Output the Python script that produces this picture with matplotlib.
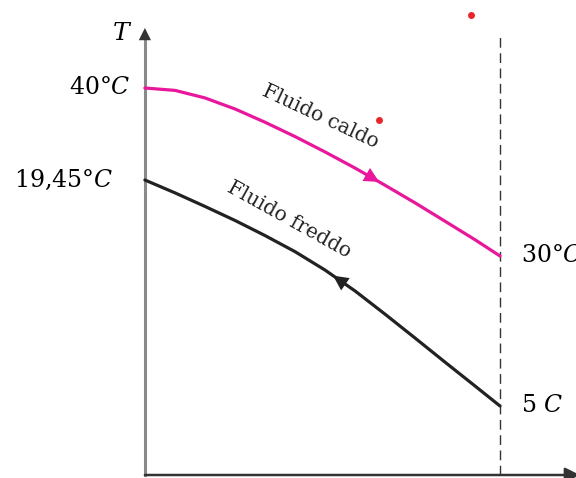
import matplotlib.pyplot as plt
import numpy as np

plt.rcParams['mathtext.fontset'] = 'dejavuserif'
plt.rcParams['font.family'] = 'DejaVu Serif'

# position along the exchanger (0 = inlet side, 1 = outlet side) and schematic temperature height
hot_x = [0.0, 0.085, 0.169, 0.254, 0.338, 0.423, 0.507, 0.592, 0.676, 0.761, 0.845, 0.930, 1.0]
hot_y = [3.87, 3.846, 3.771, 3.66, 3.528, 3.384, 3.231, 3.069, 2.898, 2.721, 2.538, 2.352, 2.19]
cold_x = [0.0, 0.085, 0.169, 0.254, 0.338, 0.423, 0.507, 0.592, 0.676, 0.761, 0.845, 0.930, 1.0]
cold_y = [2.95, 2.821, 2.686, 2.545, 2.395, 2.233, 2.05, 1.84, 1.609, 1.369, 1.129, 0.889, 0.69]

hot_labels = ['40°$C$', '30°$C$']
cold_labels = ['19,45°$C$', '5 $C$']
hot_color = '#e8179b'
cold_color = '#222222'

fig = plt.figure(figsize=(5.76, 4.78), dpi=100)
ax = fig.add_axes([0, 0, 1, 1])
ax.set_xlim(-0.408, 1.214)
ax.set_ylim(-0.03, 4.75)
ax.axis('off')

# axes drawn as arrows
ax.plot([0, 0], [0, 4.35], color='#8a8a8a', lw=2.2)
ax.annotate('', xy=(0, 4.47), xytext=(0, 4.3), annotation_clip=False,
            arrowprops=dict(arrowstyle='-|>', color='#333333', lw=0,
                            mutation_scale=22, shrinkA=0, shrinkB=0))
ax.annotate('', xy=(1.225, 0), xytext=(0, 0), annotation_clip=False,
            arrowprops=dict(arrowstyle='-|>', color='#333333', lw=1.8,
                            mutation_scale=22, shrinkA=0, shrinkB=0))
ax.text(-0.065, 4.41, '$T$', fontsize=18, ha='center', va='center')

# outlet line
ax.plot([1, 1], [0, 4.42], color='#333333', lw=1, ls=(0, (7, 4)))

# curves
ax.plot(hot_x, hot_y, color=hot_color, lw=2.3, solid_capstyle='round',
        solid_joinstyle='round')
ax.plot(cold_x, cold_y, color=cold_color, lw=2.3, solid_capstyle='round',
        solid_joinstyle='round')


def flow_arrow(xs, ys, xpos, reverse, color):
    y0 = np.interp(xpos, xs, ys)
    y1 = np.interp(xpos + 0.02, xs, ys)
    tail, tip = ((xpos + 0.02, y1), (xpos, y0)) if reverse else ((xpos, y0), (xpos + 0.02, y1))
    ax.annotate('', xy=tip, xytext=tail,
                arrowprops=dict(arrowstyle='-|>', color=color, lw=0,
                                mutation_scale=27, shrinkA=0, shrinkB=0))


flow_arrow(hot_x, hot_y, 0.64, False, hot_color)
flow_arrow(cold_x, cold_y, 0.53, True, cold_color)

# end temperatures
fs = 17
ax.text(-0.04, hot_y[0], hot_labels[0], fontsize=fs, ha='right', va='center')
ax.text(1.06, hot_y[-1], hot_labels[1], fontsize=fs, ha='left', va='center')
ax.text(-0.09, cold_y[0], cold_labels[0], fontsize=fs, ha='right', va='center')
ax.text(1.06, cold_y[-1], cold_labels[1], fontsize=fs, ha='left', va='center')

# stream names
ax.text(0.495, 3.58, 'Fluido caldo', fontsize=14.5, rotation=-25,
        ha='center', va='center', color='#222222')
ax.text(0.405, 2.55, 'Fluido freddo', fontsize=14.5, rotation=-29,
        ha='center', va='center', color='#222222')

# red dots
ax.plot([0.918, 0.659], [4.60, 3.55], 'o', color='#e8262a', ms=5, mec='none')

fig.savefig('out.png', dpi=100)
